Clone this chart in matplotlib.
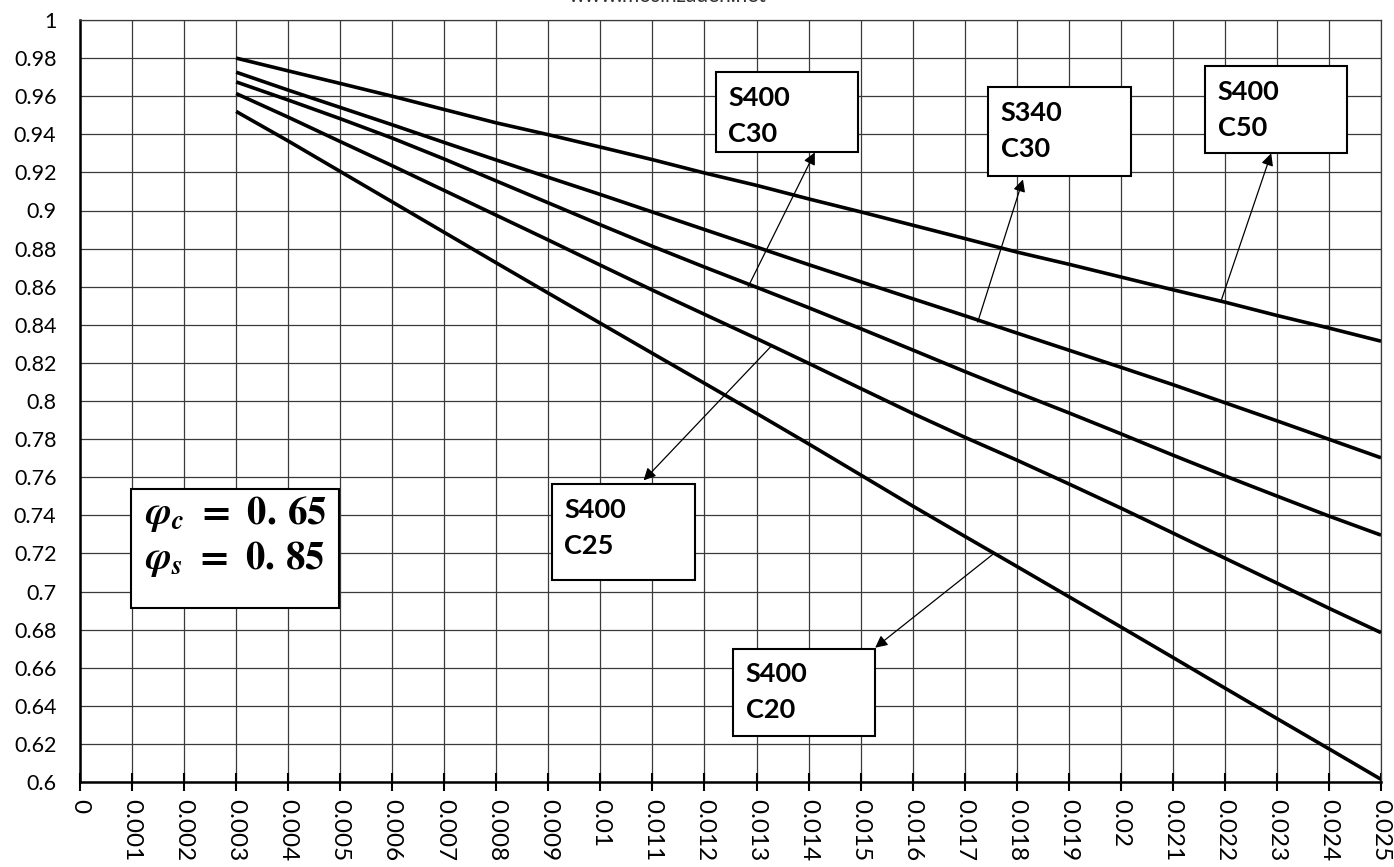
import numpy as np
import matplotlib.pyplot as plt
from matplotlib.patches import Rectangle

plt.rcParams['font.family'] = ['Lato', 'DejaVu Sans']
plt.rcParams['mathtext.fontset'] = 'custom'
plt.rcParams['mathtext.it'] = 'STIXGeneral:italic:bold'
plt.rcParams['mathtext.rm'] = 'STIXGeneral:bold'
plt.rcParams['mathtext.bf'] = 'STIXGeneral:bold'

# strain values (x axis)
strain = [0.003, 0.004, 0.005, 0.006, 0.007, 0.008, 0.009, 0.010, 0.011, 0.012,
          0.013, 0.014, 0.015, 0.016, 0.017, 0.018, 0.019, 0.020, 0.021, 0.022,
          0.023, 0.024, 0.025]

s400_c50 = [0.980, 0.9733, 0.9667, 0.960, 0.953, 0.946, 0.9398, 0.9333, 0.9267, 0.9197,
            0.9132, 0.9061, 0.8993, 0.8923, 0.8853, 0.8782, 0.8718, 0.8651, 0.8584, 0.8519,
            0.8449, 0.8383, 0.8314]
s340_c30 = [0.9726, 0.9632, 0.9541, 0.9450, 0.9357, 0.9265, 0.9174, 0.9084, 0.8992, 0.8900,
            0.8808, 0.8716, 0.8626, 0.8537, 0.8448, 0.8357, 0.8267, 0.8177, 0.8086, 0.7991,
            0.7896, 0.7799, 0.7702]
s400_c30 = [0.9675, 0.9580, 0.9482, 0.9380, 0.9270, 0.9155, 0.9040, 0.8925, 0.8812, 0.8703,
            0.8597, 0.8490, 0.8380, 0.8268, 0.8155, 0.8045, 0.7938, 0.7828, 0.7716, 0.7607,
            0.7501, 0.7396, 0.7296]
s400_c25 = [0.9614, 0.9490, 0.9362, 0.9235, 0.9105, 0.8975, 0.8845, 0.8713, 0.8582, 0.8455,
            0.8328, 0.8198, 0.8066, 0.7935, 0.7810, 0.7690, 0.7565, 0.7438, 0.7307, 0.7175,
            0.7044, 0.6912, 0.6784]
s400_c20 = [0.952, 0.9365, 0.9205, 0.9045, 0.8885, 0.8725, 0.8566, 0.8408, 0.8250, 0.8093,
            0.7935, 0.7775, 0.7612, 0.7449, 0.7290, 0.7132, 0.6973, 0.6814, 0.6654, 0.6493,
            0.6333, 0.6174, 0.6014]

x_ticks = np.round(np.arange(0, 0.0251, 0.001), 3)
x_labels = ['0' if v == 0 else ('%g' % v) for v in x_ticks]
y_ticks = np.round(np.arange(0.6, 1.001, 0.02), 2)
y_labels = ['%g' % v for v in y_ticks]

fig = plt.figure(figsize=(13.94, 8.67), dpi=100)
ax = fig.add_axes([80 / 1394, 1 - 782 / 867, 1301 / 1394, 762 / 867])

for ys in (s400_c50, s340_c30, s400_c30, s400_c25, s400_c20):
    ax.plot(strain, ys, color='black', lw=2.6, solid_capstyle='butt', zorder=3)

ax.set_xlim(0, 0.025)
ax.set_ylim(0.6, 1.0)
ax.set_xticks(x_ticks)
ax.set_xticklabels(x_labels, rotation=270, fontsize=17.5)
ax.set_yticks(y_ticks)
ax.set_yticklabels(y_labels, fontsize=15.5)
ax.tick_params(axis='x', direction='inout', length=13, width=1.5, pad=6)
ax.tick_params(axis='y', length=0, pad=17)
ax.grid(True, color='#3a3a3a', lw=0.9)
ax.set_axisbelow(True)
for side in ('top', 'right'):
    ax.spines[side].set_linewidth(0.9)
    ax.spines[side].set_color('#3a3a3a')
for side in ('left', 'bottom'):
    ax.spines[side].set_linewidth(1.8)

# label boxes: (x0, y0, x1, y1), two text lines, arrow start, arrow tip
boxes = [
    ((0.01222, 0.9305, 0.01495, 0.9726), 'S400', 'C30', (0.01284, 0.8600), (0.01412, 0.9305)),
    ((0.01745, 0.9183, 0.02020, 0.9647), 'S340', 'C30', (0.01725, 0.8414), (0.01812, 0.9163)),
    ((0.02162, 0.9300, 0.02435, 0.9758), 'S400', 'C50', (0.02193, 0.8528), (0.02289, 0.9300)),
    ((0.00907, 0.7058, 0.01182, 0.7563), 'S400', 'C25', (0.01329, 0.8290), (0.01083, 0.7583)),
    ((0.01255, 0.6242, 0.01528, 0.6700), 'S400', 'C20', (0.01754, 0.7195), (0.01528, 0.6705)),
]
for (x0, y0, x1, y1), t1, t2, p0, p1 in boxes:
    ax.add_patch(Rectangle((x0, y0), x1 - x0, y1 - y0, facecolor='white',
                           edgecolor='black', lw=1.5, zorder=4))
    ax.text(x0 + 0.00024, y1 - 0.0135, t1, fontsize=19.5, fontweight='bold',
            va='center', ha='left', zorder=5)
    ax.text(x0 + 0.00024, y1 - 0.0323, t2, fontsize=19.5, fontweight='bold',
            va='center', ha='left', zorder=5)
    ax.annotate('', xy=p1, xytext=p0,
                arrowprops=dict(arrowstyle='-|>', color='black', lw=0.9,
                                mutation_scale=18, shrinkA=0, shrinkB=0),
                zorder=5)

# phi box
ax.add_patch(Rectangle((0.00098, 0.6911), 0.004, 0.0626, facecolor='white',
                       edgecolor='black', lw=1.5, zorder=4))
ax.text(0.00125, 0.7405, r'$\mathit{\varphi}_{\mathit{c}}\ =\ 0.\,65$',
        fontsize=28, va='center', ha='left', zorder=5)
ax.text(0.00125, 0.7170, r'$\mathit{\varphi}_{\mathit{s}}\ =\ 0.\,85$',
        fontsize=28, va='center', ha='left', zorder=5)

fig.text(668 / 1394, 1 - 1.5 / 867, 'www.mosinzadeh.net', fontsize=15,
         ha='center', va='baseline', color='#333333')

fig.savefig('out.png', dpi=100)
